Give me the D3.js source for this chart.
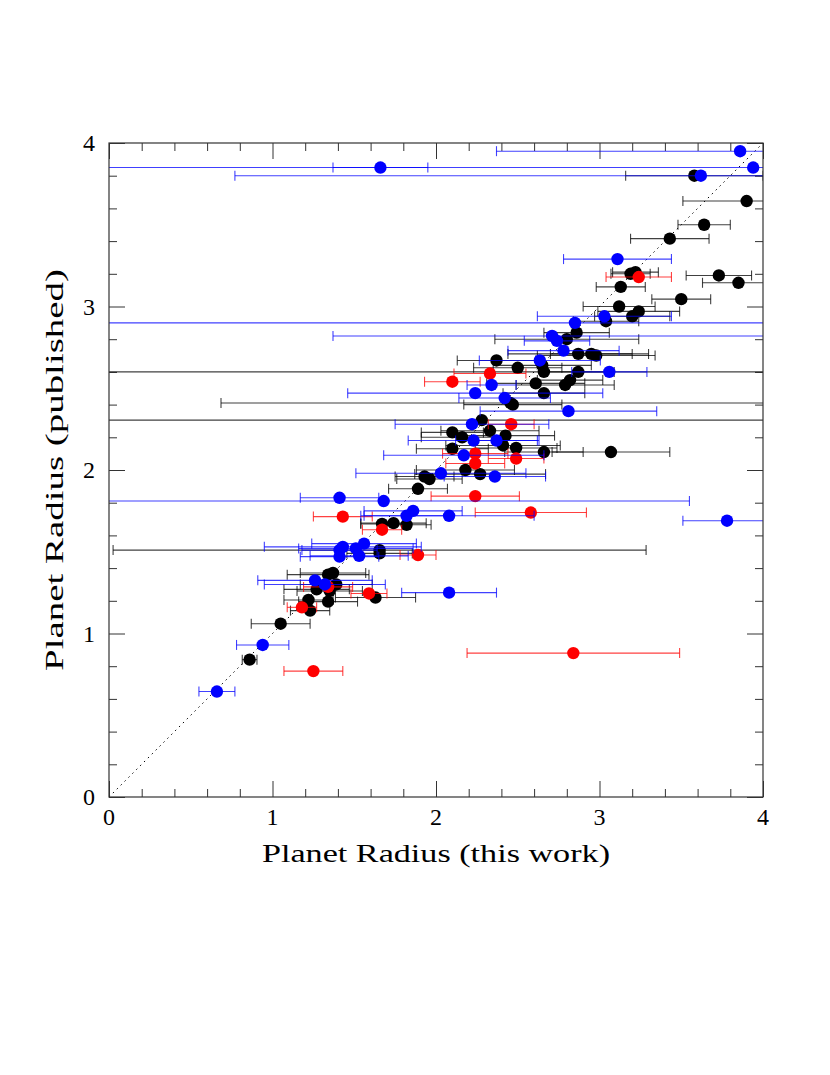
<!DOCTYPE html>
<html>
<head>
<meta charset="utf-8">
<script src="https://cdn.jsdelivr.net/npm/d3@7"></script>
<style>
  body { margin: 0; background: #fff; }
  text { font-family: "Liberation Serif", "DejaVu Serif", serif; fill: #000; }
</style>
</head>
<body>
<div id="chart"></div>
<script>
// [x (this work), y (published), x error]
var black_pts = [
  [3.58,3.80,0.42],[3.90,3.645,0.39],[3.64,3.50,0.16],[3.43,3.415,0.24],
  [3.19,3.20,0.12],[3.22,3.21,0.14],[3.73,3.19,0.20],[3.85,3.145,0.22],
  [3.13,3.12,0.15],[3.50,3.045,0.18],[3.12,3.00,0.22],[3.24,2.97,0.25],
  [3.20,2.94,0.23],[3.04,2.91,0.20],[2.86,2.84,0.20],[2.80,2.80,0.44],
  [2.87,2.71,0.43],[2.95,2.71,0.25],[2.98,2.70,0.36],[2.37,2.67,0.24],
  [2.50,2.625,0.27],[2.65,2.64,0.30],[2.66,2.60,3.0],[2.87,2.60,0.22],
  [2.82,2.55,0.20],[2.79,2.52,0.30],[2.61,2.53,0.30],[2.66,2.47,0.25],
  [2.455,2.41,1.77],[2.47,2.40,0.30],[2.28,2.305,3.0],[2.33,2.24,0.30],
  [2.10,2.23,0.19],[2.16,2.20,0.25],[2.425,2.21,0.30],[2.41,2.15,0.35],
  [2.49,2.135,0.25],[2.10,2.13,0.22],[2.66,2.11,0.24],[3.07,2.11,0.36],
  [2.18,2.00,0.30],[2.27,1.975,0.40],[1.93,1.96,0.18],[1.96,1.945,0.20],
  [1.89,1.885,0.18],[1.67,1.67,0.13],[1.74,1.675,0.20],[1.82,1.665,0.15],
  [1.655,1.51,1.63],[1.655,1.49,0.20],[1.34,1.36,0.25],[1.37,1.37,0.20],
  [1.35,1.26,0.20],[1.27,1.27,0.20],[1.39,1.30,0.22],[1.22,1.205,0.15],
  [1.23,1.14,0.12],[1.34,1.195,0.18],[1.63,1.22,0.245],[1.05,1.06,0.18],
  [0.86,0.84,0.045]
]
var red_pts = [
  [3.24,3.18,0.20],[2.33,2.59,0.22],[2.10,2.54,0.17],[2.46,2.28,0.14],
  [2.24,2.10,0.20],[2.49,2.07,0.17],[2.24,2.04,0.18],[2.24,1.84,0.27],
  [2.58,1.74,0.34],[1.43,1.715,0.18],[1.67,1.635,0.12],[1.89,1.48,0.11],
  [1.34,1.285,0.15],[1.59,1.245,0.11],[1.18,1.16,0.09],[1.25,0.77,0.18],
  [2.84,0.88,0.65]
]
var blue_pts = [
  [3.86,3.95,1.49],[3.94,3.85,4.1],[1.66,3.85,0.29],[3.62,3.80,2.85],
  [3.11,3.29,0.33],[3.03,2.94,0.41],[2.85,2.90,3.0],[2.71,2.82,1.34],
  [2.74,2.79,0.20],[2.78,2.73,0.34],[2.635,2.67,0.37],[3.06,2.60,0.23],
  [2.34,2.52,0.15],[2.24,2.47,0.78],[2.42,2.44,0.28],[2.81,2.36,0.54],
  [2.22,2.28,0.47],[2.23,2.18,0.40],[2.37,2.18,0.25],[2.17,2.09,0.49],
  [2.03,1.98,0.52],[2.36,1.96,0.31],[1.68,1.81,1.87],[1.41,1.83,0.24],
  [1.86,1.75,0.30],[1.82,1.72,0.28],[2.08,1.72,0.52],[3.78,1.69,0.27],
  [1.43,1.53,0.48],[1.41,1.51,0.23],[1.41,1.47,0.24],[1.53,1.475,0.30],
  [1.56,1.55,0.32],[1.51,1.52,0.35],[1.26,1.325,0.35],[1.32,1.30,0.37],
  [2.08,1.25,0.29],[0.94,0.93,0.16],[0.66,0.645,0.11]
]
var series_colors = ["#000000", "#ff0000", "#0000ff"]
var major_ticks = [0, 1, 2, 3, 4]
var minor_ticks = [0.2,0.4,0.6,0.8,1.2,1.4,1.6,1.8,2.2,2.4,2.6,2.8,3.2,3.4,3.6,3.8]
var x_title = "Planet Radius (this work)"
var y_title = "Planet Radius (published)"

var width = 830, height = 1075
var margin_left = 109, margin_top = 143, plot_w = 654, plot_h = 654
var dot_r = 6.2, cap = 5

var svg = d3.select("#chart").append("svg")
    .attr("width", width)
    .attr("height", height)

var x = d3.scaleLinear().domain([0, 4]).range([0, plot_w])
var y = d3.scaleLinear().domain([0, 4]).range([plot_h, 0])

svg.append("defs").append("clipPath")
    .attr("id", "plot_clip")
  .append("rect")
    .attr("width", plot_w)
    .attr("height", plot_h)

var g = svg.append("g")
    .attr("transform", "translate(" + margin_left + "," + margin_top + ")")

// ticks on all four sides, pointing inward
function add_axis(axis_fn, transform, values, size){
    g.append("g")
        .attr("transform", transform)
        .call(axis_fn.tickValues(values).tickSize(size).tickFormat(""))
        .call(function(a){ a.select(".domain").remove() })
        .selectAll("line").attr("stroke", "#333").attr("stroke-width", 1)
}
add_axis(d3.axisBottom(x), "translate(0," + plot_h + ")", minor_ticks, -8)
add_axis(d3.axisBottom(x), "translate(0," + plot_h + ")", major_ticks, -16)
add_axis(d3.axisTop(x), "translate(0,0)", minor_ticks, -8)
add_axis(d3.axisTop(x), "translate(0,0)", major_ticks, -16)
add_axis(d3.axisLeft(y), "translate(0,0)", minor_ticks, -8)
add_axis(d3.axisLeft(y), "translate(0,0)", major_ticks, -16)
add_axis(d3.axisRight(y), "translate(" + plot_w + ",0)", minor_ticks, -8)
add_axis(d3.axisRight(y), "translate(" + plot_w + ",0)", major_ticks, -16)

// tick labels
g.selectAll(".xlab")
    .data(major_ticks).enter()
    .append("text")
    .attr("class", "xlab")
    .attr("x", function(d){ return x(d) })
    .attr("y", plot_h + 28)
    .attr("text-anchor", "middle")
    .style("font-size", "24px")
    .text(function(d){ return d })
g.selectAll(".ylab")
    .data(major_ticks).enter()
    .append("text")
    .attr("class", "ylab")
    .attr("x", -14)
    .attr("y", function(d){ return y(d) + 8 })
    .attr("text-anchor", "end")
    .style("font-size", "24px")
    .text(function(d){ return d })

// axis titles
svg.append("text")
    .attr("x", 436)
    .attr("y", 862)
    .attr("text-anchor", "middle")
    .attr("textLength", 348)
    .attr("lengthAdjust", "spacingAndGlyphs")
    .style("font-size", "26px")
    .text(x_title)
svg.append("text")
    .attr("transform", "translate(63,470) rotate(-90)")
    .attr("text-anchor", "middle")
    .attr("textLength", 402)
    .attr("lengthAdjust", "spacingAndGlyphs")
    .style("font-size", "26px")
    .text(y_title)

var data_layer = g.append("g").attr("clip-path", "url(#plot_clip)")

// one-to-one line
data_layer.append("line")
    .attr("x1", x(0)).attr("y1", y(0))
    .attr("x2", x(4)).attr("y2", y(4))
    .attr("stroke", "#000")
    .attr("stroke-width", 1)
    .attr("stroke-dasharray", "1.5,4")

// series: black, red, blue
var all_series = [black_pts, red_pts, blue_pts]
all_series.forEach(function(pts, i){
    var col = series_colors[i]
    var s = data_layer.append("g")
    var p = s.selectAll(".pt")
        .data(pts).enter()
        .append("g")
        .attr("class", "pt")
    p.append("line")
        .attr("x1", function(d){ return x(d[0] - d[2]) })
        .attr("x2", function(d){ return x(d[0] + d[2]) })
        .attr("y1", function(d){ return y(d[1]) })
        .attr("y2", function(d){ return y(d[1]) })
        .attr("stroke", col)
        .attr("stroke-opacity", 0.75)
        .attr("stroke-width", 1.1)
    p.append("line")
        .attr("x1", function(d){ return x(d[0] - d[2]) })
        .attr("x2", function(d){ return x(d[0] - d[2]) })
        .attr("y1", function(d){ return y(d[1]) - cap })
        .attr("y2", function(d){ return y(d[1]) + cap })
        .attr("stroke", col)
        .attr("stroke-opacity", 0.75)
        .attr("stroke-width", 1.1)
    p.append("line")
        .attr("x1", function(d){ return x(d[0] + d[2]) })
        .attr("x2", function(d){ return x(d[0] + d[2]) })
        .attr("y1", function(d){ return y(d[1]) - cap })
        .attr("y2", function(d){ return y(d[1]) + cap })
        .attr("stroke", col)
        .attr("stroke-opacity", 0.75)
        .attr("stroke-width", 1.1)
    p.append("circle")
        .attr("cx", function(d){ return x(d[0]) })
        .attr("cy", function(d){ return y(d[1]) })
        .attr("r", dot_r)
        .attr("fill", col)
})

// frame
g.append("rect")
    .attr("width", plot_w)
    .attr("height", plot_h)
    .attr("fill", "none")
    .attr("stroke", "#333")
    .attr("stroke-width", 1.2)
</script>
</body>
</html>
